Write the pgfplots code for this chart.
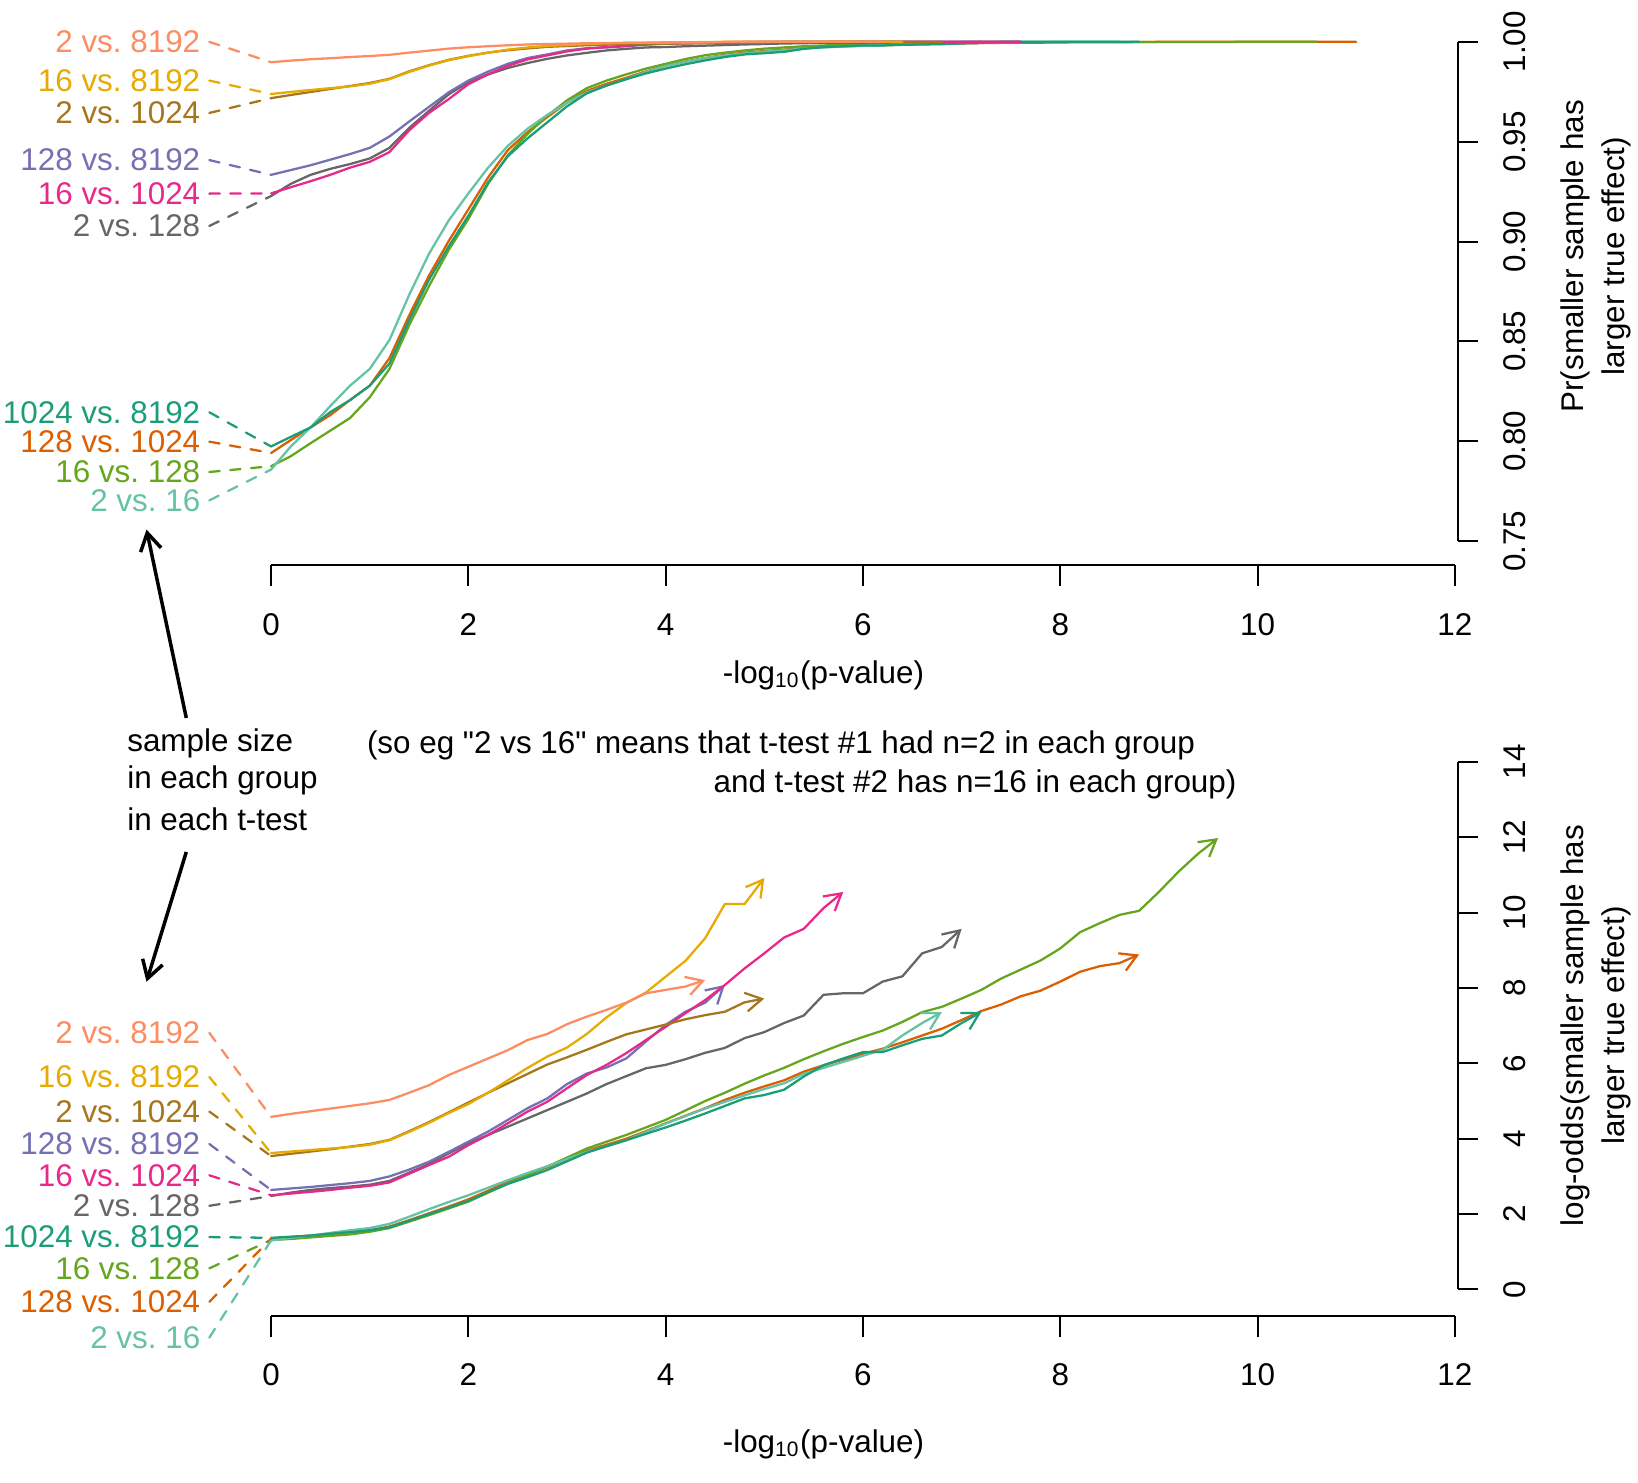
\documentclass[border=0pt]{standalone}
\usepackage{pgfplots}
\pgfplotsset{compat=1.18}
\usepackage{fontspec}
\setmainfont{Liberation Sans}
\usetikzlibrary{arrows.meta}
\frenchspacing
\definecolor{cSalmon}{HTML}{FC8D62}
\definecolor{cGold}{HTML}{E6AB02}
\definecolor{cBrown}{HTML}{A6761D}
\definecolor{cPurple}{HTML}{7570B3}
\definecolor{cMagenta}{HTML}{E7298A}
\definecolor{cGrey}{HTML}{666666}
\definecolor{cTeal}{HTML}{1B9E77}
\definecolor{cOrange}{HTML}{D95F02}
\definecolor{cGreen}{HTML}{66A61E}
\definecolor{cLteal}{HTML}{66C2A5}
\begin{document}
\frenchspacing
\begin{tikzpicture}[font=\fontsize{9}{12}\selectfont]
\pgfplotsset{myax/.style={hide axis, clip=false, scale only axis, width=339.3pt, xmin=0, xmax=12, anchor=south west,
  every axis plot/.append style={line width=0.65pt, line cap=round, line join=round}},
  conn/.style={line width=0.65pt, dash pattern=on 3pt off 3pt},
  arr/.style={-{Straight Barb[length=4.7pt,width=5.4pt]}}}
\tikzset{lab/.style={anchor=east,inner sep=0pt}}
% ================= TOP PANEL =================
\begin{axis}[myax, at={(77.7pt,269.7pt)}, height=143.1pt, ymin=0.75, ymax=1]
\addplot[cOrange] coordinates {(0,.7941)(0.2,.8006)(0.4,.8069)(0.6,.8131)(0.8,.8206)(1,.8278)(1.2,.8416)(1.4,.8630)(1.6,.8829)(1.8,.9002)(2,.9161)(2.2,.9321)(2.4,.9458)(2.6,.9548)(2.8,.9623)(3,.9695)(3.2,.9754)(3.4,.9790)(3.6,.9820)(3.8,.9852)(4,.9880)(4.2,.9902)(4.4,.9919)(4.6,.9935)(4.8,.9946)(5,.9954)(5.2,.9961)(5.4,.9969)(5.6,.9974)(5.8,.9978)(6,.9981)(6.2,.9983)(6.4,.9986)(6.6,.9988)(6.8,.9990)(7,.9992)(7.2,.9994)(7.4,.9995)(7.6,.9996)(7.8,.9996)(8,.9997)(8.2,.9998)(8.6,.9998)(8.8,.9999)(9,1)(11,1)};
\addplot[cGreen] coordinates {(0,.7875)(0.2,.7925)(0.4,.7990)(0.6,.8053)(0.8,.8116)(1,.8220)(1.2,.8362)(1.4,.8581)(1.6,.8776)(1.8,.8957)(2,.9113)(2.2,.9289)(2.4,.9432)(2.6,.9539)(2.8,.9630)(3,.9707)(3.2,.9768)(3.4,.9806)(3.6,.9837)(3.8,.9866)(4,.9890)(4.2,.9914)(4.4,.9933)(4.6,.9946)(4.8,.9957)(5,.9966)(5.2,.9972)(5.4,.9978)(5.6,.9982)(5.8,.9985)(6,.9988)(6.2,.9990)(6.4,.9992)(6.6,.9994)(6.8,.9994)(7,.9996)(7.2,.9996)(7.4,.9997)(7.6,.9998)(7.8,.9998)(8,.9999)(9.6,.9999)(9.8,1)(10.6,1)};
\addplot[cLteal] coordinates {(0,.7858)(0.2,.7974)(0.4,.8069)(0.6,.8176)(0.8,.8278)(1,.8362)(1.2,.8507)(1.4,.8733)(1.6,.8938)(1.8,.9105)(2,.9241)(2.2,.9370)(2.4,.9479)(2.6,.9565)(2.8,.9634)(3,.9695)(3.2,.9747)(3.4,.9781)(3.6,.9813)(3.8,.9849)(4,.9879)(4.2,.9900)(4.4,.9918)(4.6,.9932)(4.8,.9942)(5,.9951)(5.2,.9958)(5.4,.9967)(5.6,.9972)(5.8,.9976)(6,.9980)(6.2,.9983)(6.4,.9988)(6.6,.9992)(6.8,.9994)(7,1)(8.6,1)};
\addplot[cTeal] coordinates {(0,.7974)(0.2,.8022)(0.4,.8069)(0.6,.8146)(0.8,.8206)(1,.8278)(1.2,.8389)(1.4,.8606)(1.6,.8808)(1.8,.8975)(2,.9129)(2.2,.9296)(2.4,.9427)(2.6,.9517)(2.8,.9597)(3,.9677)(3.2,.9742)(3.4,.9781)(3.6,.9813)(3.8,.9842)(4,.9866)(4.2,.9888)(4.4,.9907)(4.6,.9924)(4.8,.9937)(5,.9943)(5.2,.9950)(5.4,.9965)(5.6,.9974)(5.8,.9978)(6,.9982)(6.2,.9982)(6.4,.9985)(6.6,.9987)(6.8,.9988)(7,.9992)(7.2,.9994)(7.4,1)(8.8,1)};
\addplot[cGrey] coordinates {(0,.9228)(0.2,.9289)(0.4,.9334)(0.6,.9364)(0.8,.9388)(1,.9416)(1.2,.9469)(1.4,.9569)(1.6,.9654)(1.8,.9737)(2,.9798)(2.2,.9837)(2.4,.9869)(2.6,.9894)(2.8,.9915)(3,.9932)(3.2,.9945)(3.4,.9957)(3.6,.9965)(3.8,.9972)(4,.9974)(4.2,.9978)(4.4,.9981)(4.6,.9984)(4.8,.9987)(5,.9989)(5.2,.9992)(5.4,.9993)(5.6,.9996)(6,.9996)(6.4,.9998)(7,.9999)(7.2,1)(7.6,1)};
\addplot[cPurple] coordinates {(0,.9334)(0.2,.9358)(0.4,.9382)(0.6,.9410)(0.8,.9438)(1,.9469)(1.2,.9526)(1.4,.9601)(1.6,.9674)(1.8,.9747)(2,.9806)(2.2,.9851)(2.4,.9890)(2.6,.9919)(2.8,.9937)(3,.9957)(3.2,.9968)(3.4,.9972)(3.6,.9978)(3.8,.9986)(4,.9991)(4.2,.9994)(4.4,.9995)(4.6,.9997)(4.8,1)(7.2,1)};
\addplot[cMagenta] coordinates {(0,.9241)(0.2,.9272)(0.4,.9302)(0.6,.9334)(0.8,.9370)(1,.9399)(1.2,.9448)(1.4,.9557)(1.6,.9644)(1.8,.9713)(2,.9788)(2.2,.9837)(2.4,.9880)(2.6,.9912)(2.8,.9932)(3,.9952)(3.2,.9966)(3.4,.9974)(3.6,.9981)(3.8,.9987)(4,.9991)(4.2,.9993)(4.4,.9995)(4.6,.9997)(4.8,.9998)(5,.9999)(5.8,1)(7.6,1)};
\addplot[cBrown] coordinates {(0,.9718)(0.2,.9734)(0.4,.9749)(0.6,.9764)(0.8,.9779)(1,.9794)(1.2,.9815)(1.4,.9852)(1.6,.9883)(1.8,.9910)(2,.9930)(2.2,.9946)(2.4,.9958)(2.6,.9967)(2.8,.9975)(3,.9979)(3.2,.9983)(3.4,.9986)(3.6,.9989)(3.8,.9990)(4,.9991)(4.2,.9992)(4.4,.9993)(4.6,.9994)(4.8,.9995)(5,.9996)(5.2,1)(6.8,1)};
\addplot[cGold] coordinates {(0,.9739)(0.2,.9749)(0.4,.9759)(0.6,.9768)(0.8,.9777)(1,.9790)(1.2,.9813)(1.4,.9849)(1.6,.9881)(1.8,.9908)(2,.9928)(2.2,.9946)(2.4,.9961)(2.6,.9972)(2.8,.9979)(3,.9984)(3.2,.9989)(3.4,.9993)(3.6,.9995)(3.8,.9996)(4,.9998)(4.2,.9998)(4.4,.9999)(4.6,1)(6.4,1)};
\addplot[cSalmon] coordinates {(0,.9898)(0.2,.9906)(0.4,.9913)(0.6,.9918)(0.8,.9924)(1,.9929)(1.2,.9935)(1.4,.9946)(1.6,.9956)(1.8,.9966)(2,.9973)(2.2,.9978)(2.4,.9983)(2.6,.9987)(2.8,.9989)(3,.9991)(3.2,.9993)(3.4,.9994)(3.6,.9995)(3.8,.9996)(4,.9996)(4.2,.9997)(4.4,.9997)(4.6,1)(6.2,1)};
% connectors
\addplot[cSalmon,conn] coordinates {(-0.626,1.000)(0,.9898)};
\addplot[cGold,conn] coordinates {(-0.626,.9806)(0,.9739)};
\addplot[cBrown,conn] coordinates {(-0.626,.9644)(0,.9718)};
\addplot[cPurple,conn] coordinates {(-0.626,.9408)(0,.9334)};
\addplot[cMagenta,conn] coordinates {(-0.626,.9240)(0,.9241)};
\addplot[cGrey,conn] coordinates {(-0.626,.9078)(0,.9228)};
\addplot[cTeal,conn] coordinates {(-0.626,.8145)(0,.7974)};
\addplot[cOrange,conn] coordinates {(-0.626,.7998)(0,.7941)};
\addplot[cGreen,conn] coordinates {(-0.626,.7846)(0,.7875)};
\addplot[cLteal,conn] coordinates {(-0.626,.7704)(0,.7858)};
\node[lab,text=cSalmon] at (axis cs:-0.711,1.000) {2 vs. 8192};
\node[lab,text=cGold] at (axis cs:-0.711,.9806) {16 vs. 8192};
\node[lab,text=cBrown] at (axis cs:-0.711,.9644) {2 vs. 1024};
\node[lab,text=cPurple] at (axis cs:-0.711,.9408) {128 vs. 8192};
\node[lab,text=cMagenta] at (axis cs:-0.711,.9240) {16 vs. 1024};
\node[lab,text=cGrey] at (axis cs:-0.711,.9078) {2 vs. 128};
\node[lab,text=cTeal] at (axis cs:-0.711,.8145) {1024 vs. 8192};
\node[lab,text=cOrange] at (axis cs:-0.711,.7998) {128 vs. 1024};
\node[lab,text=cGreen] at (axis cs:-0.711,.7846) {16 vs. 128};
\node[lab,text=cLteal] at (axis cs:-0.711,.7704) {2 vs. 16};
% axes
\draw[line width=0.6pt] (axis cs:0,0.7379) -- (axis cs:12,0.7379);
\pgfplotsinvokeforeach{0,2,4,6,8,10,12}{
  \draw[line width=0.6pt] (axis cs:#1,0.7379) -- (axis cs:#1,0.7275);
  \node at (axis cs:#1,0.7081) {#1};
}
\draw[line width=0.6pt] (axis cs:12.032,0.75) -- (axis cs:12.032,1);
\pgfplotsinvokeforeach{0.75,0.80,0.85,0.90,0.95,1.00}{
  \draw[line width=0.6pt] (axis cs:12.032,#1) -- (axis cs:12.233,#1);
  \node[rotate=90] at (axis cs:12.605,#1) {#1};
}
\node at (axis cs:5.60,0.6829) {-log\textsubscript{10}(p-value)};
\node[rotate=90,align=center] at (axis cs:13.43,0.8926) {Pr(smaller sample has\\larger true effect)};
\end{axis}
% ================= BOTTOM PANEL =================
\begin{axis}[myax, at={(77.7pt,55.2pt)}, height=151.2pt, ymin=0, ymax=14]
\addplot[cOrange,arr] coordinates {(0,1.35)(0.2,1.39)(0.4,1.43)(0.6,1.47)(0.8,1.52)(1,1.57)(1.2,1.67)(1.4,1.84)(1.6,2.02)(1.8,2.20)(2,2.39)(2.2,2.62)(2.4,2.86)(2.6,3.05)(2.8,3.24)(3,3.46)(3.2,3.68)(3.4,3.84)(3.6,4.00)(3.8,4.20)(4,4.41)(4.2,4.61)(4.4,4.81)(4.6,5.03)(4.8,5.22)(5,5.39)(5.2,5.55)(5.4,5.78)(5.6,5.95)(5.8,6.10)(6,6.25)(6.2,6.39)(6.4,6.56)(6.6,6.74)(6.8,6.92)(7,7.15)(7.2,7.39)(7.4,7.56)(7.6,7.78)(7.8,7.93)(8,8.17)(8.2,8.43)(8.4,8.58)(8.6,8.66)(8.8,8.89)};
\addplot[cGreen,arr] coordinates {(0,1.31)(0.2,1.34)(0.4,1.38)(0.6,1.42)(0.8,1.46)(1,1.53)(1.2,1.63)(1.4,1.80)(1.6,1.97)(1.8,2.15)(2,2.33)(2.2,2.57)(2.4,2.81)(2.6,3.03)(2.8,3.26)(3,3.50)(3.2,3.74)(3.4,3.92)(3.6,4.10)(3.8,4.30)(4,4.50)(4.2,4.75)(4.4,5.00)(4.6,5.22)(4.8,5.46)(5,5.68)(5.2,5.88)(5.4,6.11)(5.6,6.32)(5.8,6.52)(6,6.70)(6.2,6.87)(6.4,7.10)(6.6,7.36)(6.8,7.50)(7,7.72)(7.2,7.95)(7.4,8.25)(7.6,8.49)(7.8,8.73)(8,9.05)(8.2,9.48)(8.4,9.72)(8.6,9.94)(8.8,10.05)(9,10.55)(9.2,11.09)(9.4,11.57)(9.6,11.98)};
\addplot[cLteal,arr] coordinates {(0,1.30)(0.2,1.37)(0.4,1.43)(0.6,1.50)(0.8,1.57)(1,1.63)(1.2,1.74)(1.4,1.93)(1.6,2.13)(1.8,2.32)(2,2.50)(2.2,2.70)(2.4,2.90)(2.6,3.09)(2.8,3.27)(3,3.46)(3.2,3.65)(3.4,3.80)(3.6,3.96)(3.8,4.18)(4,4.40)(4.2,4.60)(4.4,4.80)(4.6,4.98)(4.8,5.15)(5,5.32)(5.2,5.47)(5.4,5.72)(5.6,5.88)(5.8,6.04)(6,6.20)(6.2,6.36)(6.4,6.74)(6.6,7.07)(6.8,7.36)};
\addplot[cTeal,arr] coordinates {(0,1.37)(0.2,1.40)(0.4,1.43)(0.6,1.48)(0.8,1.52)(1,1.57)(1.2,1.65)(1.4,1.82)(1.6,2.00)(1.8,2.17)(2,2.35)(2.2,2.58)(2.4,2.80)(2.6,2.98)(2.8,3.17)(3,3.40)(3.2,3.63)(3.4,3.80)(3.6,3.96)(3.8,4.13)(4,4.30)(4.2,4.48)(4.4,4.67)(4.6,4.87)(4.8,5.07)(5,5.16)(5.2,5.30)(5.4,5.65)(5.6,5.95)(5.8,6.13)(6,6.30)(6.2,6.30)(6.4,6.48)(6.6,6.65)(6.8,6.74)(7,7.07)(7.2,7.36)};
\addplot[cGrey,arr] coordinates {(0,2.48)(0.2,2.57)(0.4,2.64)(0.6,2.69)(0.8,2.73)(1,2.78)(1.2,2.88)(1.4,3.10)(1.6,3.33)(1.8,3.61)(2,3.88)(2.2,4.10)(2.4,4.32)(2.6,4.54)(2.8,4.76)(3,4.98)(3.2,5.20)(3.4,5.45)(3.6,5.66)(3.8,5.87)(4,5.96)(4.2,6.11)(4.4,6.28)(4.6,6.41)(4.8,6.67)(5,6.83)(5.2,7.07)(5.4,7.27)(5.6,7.82)(5.8,7.86)(6,7.86)(6.2,8.17)(6.4,8.31)(6.6,8.92)(6.8,9.09)(7,9.57)};
\addplot[cPurple,arr] coordinates {(0,2.64)(0.2,2.68)(0.4,2.72)(0.6,2.77)(0.8,2.82)(1,2.88)(1.2,3.00)(1.4,3.18)(1.6,3.39)(1.8,3.65)(2,3.92)(2.2,4.19)(2.4,4.50)(2.6,4.81)(2.8,5.07)(3,5.45)(3.2,5.73)(3.4,5.89)(3.6,6.13)(3.8,6.58)(4,7.02)(4.2,7.37)(4.4,7.61)(4.6,8.08)};
\addplot[cMagenta,arr] coordinates {(0,2.50)(0.2,2.545)(0.4,2.59)(0.6,2.64)(0.8,2.70)(1,2.75)(1.2,2.84)(1.4,3.07)(1.6,3.30)(1.8,3.52)(2,3.83)(2.2,4.10)(2.4,4.41)(2.6,4.72)(2.8,4.98)(3,5.34)(3.2,5.69)(3.4,5.96)(3.6,6.27)(3.8,6.62)(4,6.97)(4.2,7.33)(4.4,7.68)(4.6,8.08)(4.8,8.52)(5,8.92)(5.2,9.34)(5.4,9.57)(5.6,10.12)(5.8,10.55)};
\addplot[cBrown,arr] coordinates {(0,3.54)(0.2,3.60)(0.4,3.66)(0.6,3.72)(0.8,3.79)(1,3.86)(1.2,3.97)(1.4,4.20)(1.6,4.44)(1.8,4.70)(2,4.96)(2.2,5.22)(2.4,5.47)(2.6,5.72)(2.8,5.97)(3,6.16)(3.2,6.36)(3.4,6.57)(3.6,6.77)(3.8,6.90)(4,7.03)(4.2,7.17)(4.4,7.28)(4.6,7.37)(4.8,7.62)(5,7.72)};
\addplot[cGold,arr] coordinates {(0,3.62)(0.2,3.66)(0.4,3.70)(0.6,3.74)(0.8,3.78)(1,3.84)(1.2,3.96)(1.4,4.18)(1.6,4.42)(1.8,4.68)(2,4.92)(2.2,5.22)(2.4,5.55)(2.6,5.88)(2.8,6.18)(3,6.42)(3.2,6.78)(3.4,7.22)(3.6,7.60)(3.8,7.88)(4,8.30)(4.2,8.72)(4.4,9.32)(4.6,10.23)(4.8,10.23)(5,10.92)};
\addplot[cSalmon,arr] coordinates {(0,4.58)(0.2,4.66)(0.4,4.73)(0.6,4.80)(0.8,4.87)(1,4.94)(1.2,5.03)(1.4,5.22)(1.6,5.42)(1.8,5.69)(2,5.91)(2.2,6.13)(2.4,6.35)(2.6,6.62)(2.8,6.78)(3,7.04)(3.2,7.24)(3.4,7.42)(3.6,7.61)(3.8,7.86)(4,7.95)(4.2,8.04)(4.4,8.21)};
% connectors
\addplot[cSalmon,conn] coordinates {(-0.626,6.81)(0,4.58)};
\addplot[cGold,conn] coordinates {(-0.626,5.64)(0,3.62)};
\addplot[cBrown,conn] coordinates {(-0.626,4.72)(0,3.54)};
\addplot[cPurple,conn] coordinates {(-0.626,3.86)(0,2.64)};
\addplot[cMagenta,conn] coordinates {(-0.626,3.03)(0,2.50)};
\addplot[cGrey,conn] coordinates {(-0.626,2.22)(0,2.48)};
\addplot[cTeal,conn] coordinates {(-0.626,1.39)(0,1.37)};
\addplot[cGreen,conn] coordinates {(-0.626,0.56)(0,1.31)};
\addplot[cOrange,conn] coordinates {(-0.626,-0.33)(0,1.35)};
\addplot[cLteal,conn] coordinates {(-0.626,-1.28)(0,1.30)};
\node[lab,text=cSalmon] at (axis cs:-0.711,6.81) {2 vs. 8192};
\node[lab,text=cGold] at (axis cs:-0.711,5.64) {16 vs. 8192};
\node[lab,text=cBrown] at (axis cs:-0.711,4.72) {2 vs. 1024};
\node[lab,text=cPurple] at (axis cs:-0.711,3.86) {128 vs. 8192};
\node[lab,text=cMagenta] at (axis cs:-0.711,3.03) {16 vs. 1024};
\node[lab,text=cGrey] at (axis cs:-0.711,2.22) {2 vs. 128};
\node[lab,text=cTeal] at (axis cs:-0.711,1.39) {1024 vs. 8192};
\node[lab,text=cGreen] at (axis cs:-0.711,0.56) {16 vs. 128};
\node[lab,text=cOrange] at (axis cs:-0.711,-0.33) {128 vs. 1024};
\node[lab,text=cLteal] at (axis cs:-0.711,-1.28) {2 vs. 16};
% axes
\draw[line width=0.6pt] (axis cs:0,-0.694) -- (axis cs:12,-0.694);
\pgfplotsinvokeforeach{0,2,4,6,8,10,12}{
  \draw[line width=0.6pt] (axis cs:#1,-0.694) -- (axis cs:#1,-1.25);
  \node at (axis cs:#1,-2.25) {#1};
}
\draw[line width=0.6pt] (axis cs:12.032,0) -- (axis cs:12.032,14);
\pgfplotsinvokeforeach{0,2,4,6,8,10,12,14}{
  \draw[line width=0.6pt] (axis cs:12.032,#1) -- (axis cs:12.233,#1);
  \node[rotate=90] at (axis cs:12.605,#1) {#1};
}
\node at (axis cs:5.60,-4.11) {-log\textsubscript{10}(p-value)};
\node[rotate=90,align=center] at (axis cs:13.43,7.0) {log-odds(smaller sample has\\larger true effect)};
\end{axis}
% ================= annotations =================
\begin{scope}[x=0.3pt,y=-0.3pt,shift={(0pt,424.8pt)}]
\node[anchor=west,inner sep=0pt] at (121,710) {sample size};
\node[anchor=west,inner sep=0pt] at (121,746) {in each group};
\node[anchor=west,inner sep=0pt] at (121,783) {in each t-test};
\node[anchor=west,inner sep=0pt] at (350,712) {(so eg \textquotedbl 2 vs 16\textquotedbl\ means that t-test \#1 had n=2 in each group};
\node[anchor=east,inner sep=0pt] at (1182,749) {and t-test \#2 has n=16 in each group)};
\draw[line width=1pt,-{Straight Barb[length=5pt,width=6pt]}] (178,686) -- (140,506);
\draw[line width=1pt,-{Straight Barb[length=5pt,width=6pt]}] (178,814) -- (140,938);
\end{scope}
\pgfresetboundingbox
\useasboundingbox (0,0) rectangle (469.5pt,424.8pt);
\end{tikzpicture}
\end{document}
